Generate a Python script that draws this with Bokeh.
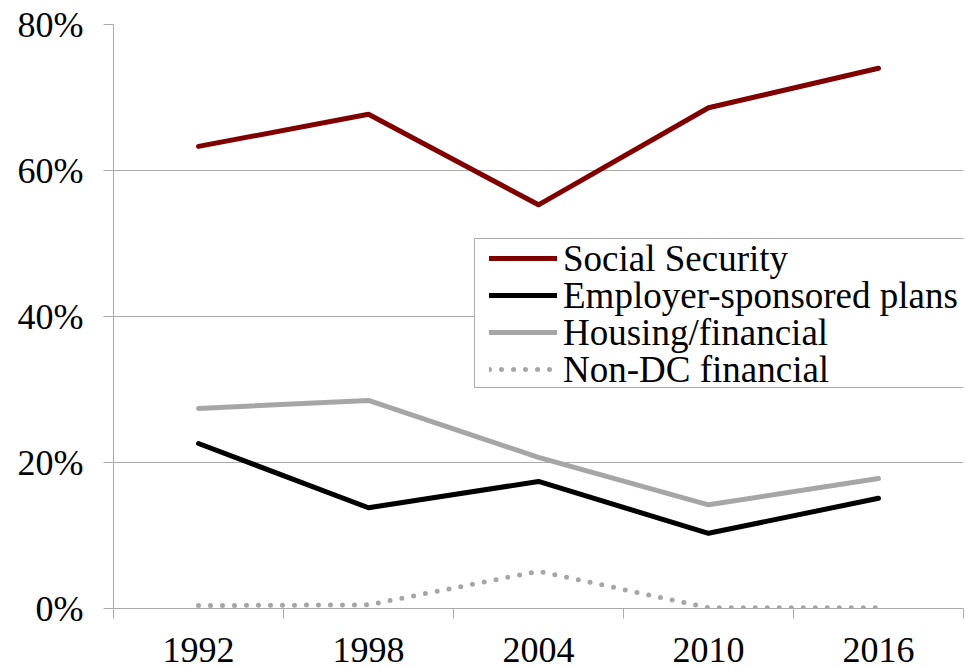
from bokeh.plotting import figure
from bokeh.models import Range1d, FixedTicker, Legend, LegendItem, BoxAnnotation
from bokeh.embed import file_html
from bokeh.resources import INLINE

years = ["1992", "1998", "2004", "2010", "2016"]
social_security = [63.3, 67.7, 55.3, 68.6, 74.0]
employer_plans = [22.6, 13.8, 17.4, 10.3, 15.1]
housing_financial = [27.4, 28.5, 20.7, 14.2, 17.8]
non_dc_financial = [0.4, 0.5, 5.1, 0.1, 0.1]
y_ticks = [0, 20, 40, 60, 80]
series_names = ["Social Security", "Employer-sponsored plans", "Housing/financial", "Non-DC financial"]

FONT = "Liberation Serif"
GRID = "#ababab"

xs = [i + 0.5 for i in range(len(years))]

p = figure(width=966, height=668, output_backend="svg", toolbar_location=None,
           x_range=Range1d(0, len(years)), y_range=Range1d(0, 80),
           min_border_left=113, min_border_right=3, min_border_top=24,
           min_border_bottom=60)
p.outline_line_color = None
p.background_fill_color = "white"
p.border_fill_color = "white"

# x axis
p.xaxis.ticker = FixedTicker(ticks=xs, minor_ticks=list(range(len(years) + 1)))
p.xaxis.major_label_overrides = {x: y for x, y in zip(xs, years)}
p.xaxis.major_tick_out = 0
p.xaxis.major_tick_in = 0
p.xaxis.minor_tick_out = 10
p.xaxis.minor_tick_in = 0
p.xaxis.minor_tick_line_color = GRID
p.xaxis.axis_line_color = GRID
p.xaxis.major_label_text_font = FONT
p.xaxis.major_label_text_font_size = "36px"
p.xaxis.major_label_text_color = "black"
p.xaxis.major_label_standoff = 19

# y axis
p.yaxis.ticker = FixedTicker(ticks=y_ticks)
p.yaxis.major_label_overrides = {v: f"{v}%" for v in y_ticks}
p.yaxis.major_tick_out = 10
p.yaxis.major_tick_in = 0
p.yaxis.minor_tick_line_color = None
p.yaxis.major_tick_line_color = GRID
p.yaxis.axis_line_color = GRID
p.yaxis.major_label_text_font = FONT
p.yaxis.major_label_text_font_size = "36px"
p.yaxis.major_label_text_color = "black"
p.yaxis.major_label_standoff = 20

p.xgrid.grid_line_color = None
p.ygrid.grid_line_color = GRID
p.ygrid.ticker = FixedTicker(ticks=y_ticks)

r1 = p.line(xs, social_security, line_color="#800000", line_width=5, line_cap="round", line_join="round")
r2 = p.line(xs, employer_plans, line_color="black", line_width=5, line_cap="round", line_join="round")
r3 = p.line(xs, housing_financial, line_color="#a6a6a6", line_width=5, line_cap="round", line_join="round")
r4 = p.line(xs, non_dc_financial, line_color="#a6a6a6", line_width=5, line_dash="0 12",
            line_cap="round", line_join="round")

# legend frame
frame = BoxAnnotation(left=474, right=965, top=238, bottom=387,
                      left_units="canvas", right_units="canvas",
                      top_units="canvas", bottom_units="canvas",
                      fill_color="white", fill_alpha=1,
                      line_color=GRID, line_width=1, line_alpha=1)
p.add_layout(frame)

# one legend row per series, rows 37px apart
row_y = [325, 288, 251, 214]
for name, r, ly in zip(series_names, [r1, r2, r3, r4], row_y):
    lg = Legend(items=[LegendItem(label=name, renderers=[r])], location=(376, ly))
    lg.label_text_font = FONT
    lg.label_text_font_size = "37px"
    lg.label_text_color = "black"
    lg.glyph_width = 68
    lg.glyph_height = 50
    lg.label_height = 50
    lg.label_standoff = 6
    lg.spacing = 0
    lg.padding = 0
    lg.margin = 0
    lg.border_line_color = None
    lg.background_fill_color = None
    lg.background_fill_alpha = 0
    p.add_layout(lg, "center")

open("out.html", "w").write(file_html(p, INLINE))
